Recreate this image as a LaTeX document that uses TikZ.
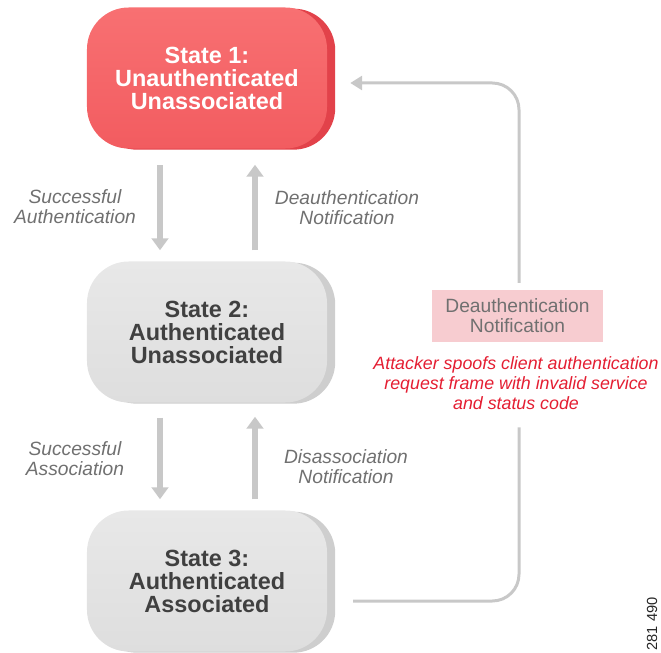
\documentclass[tikz,border=0pt]{standalone}
\usepackage{fontspec}
\setmainfont{Liberation Sans}
\usepackage{tikz}
\usetikzlibrary{arrows.meta,positioning,shadows,calc}
\usepackage{xcolor}

\definecolor{redface}{RGB}{242,92,96}
\definecolor{redtop}{RGB}{248,112,114}
\definecolor{redside}{RGB}{226,66,74}
\definecolor{grayface}{RGB}{222,222,222}
\definecolor{graytop}{RGB}{232,232,232}
\definecolor{grayside}{RGB}{206,206,206}
\definecolor{grayline}{RGB}{200,200,200}
\definecolor{labelgray}{RGB}{112,112,112}
\definecolor{statetext}{RGB}{64,64,64}
\definecolor{pinkbox}{RGB}{247,204,208}
\definecolor{attackred}{RGB}{228,30,50}

\begin{document}
\begin{tikzpicture}[x=0.03cm, y=-0.03cm,
    statebox/.style={rectangle, rounded corners=1.25cm, minimum width=7.2cm, minimum height=4.23cm,
        align=center, font=\fontsize{20}{19.6}\selectfont\bfseries},
    redstate/.style={statebox, top color=redtop, bottom color=redface, text=white,
        general shadow={fill=redside, shadow xshift=7pt, shadow yshift=-1pt}},
    graystate/.style={statebox, top color=graytop, bottom color=grayface, text=statetext,
        general shadow={fill=grayside, shadow xshift=7pt, shadow yshift=-1pt}},
    steparrow/.style={line width=0.18cm, grayline, -{Triangle[length=0.36cm, width=0.5cm]}},
    looparrow/.style={line width=0.09cm, grayline, rounded corners=0.8cm},
    translabel/.style={align=center, text=labelgray, font=\fontsize{16.4}{17}\selectfont\itshape}
]
    \useasboundingbox (0,0) rectangle (661,653);

    % the three states
    \node[redstate] (st1) at (207,78) {State 1:\\Unauthenticated\\Unassociated};
    \node[graystate] (st2) at (207,332) {State 2:\\Authenticated\\Unassociated};
    \node[graystate] (st3) at (207,581) {State 3:\\Authenticated\\Associated};

    % transitions between states
    \draw[steparrow, shorten <=0.5cm, shorten >=0.33cm] ([xshift=-1.41cm]st1.south) -- ([xshift=-1.41cm]st2.north);
    \draw[steparrow, shorten <=0.33cm, shorten >=0.48cm] ([xshift=1.44cm]st2.north) -- ([xshift=1.44cm]st1.south);
    \draw[steparrow, shorten <=0.45cm, shorten >=0.33cm] ([xshift=-1.41cm]st2.south) -- ([xshift=-1.41cm]st3.north);
    \draw[steparrow, shorten <=0.33cm, shorten >=0.42cm] ([xshift=1.44cm]st3.north) -- ([xshift=1.44cm]st2.south);

    \node[translabel] (lblauth) at (75,207) {Successful\\Authentication};
    \node[translabel] (lbldeauth) at (347,208) {Deauthentication\\Notification};
    \node[translabel] (lblassoc) at (75,459) {Successful\\Association};
    \node[translabel] (lbldisassoc) at (346,467) {Disassociation\\Notification};

    % spoofed deauthentication path
    \node[fill=pinkbox, minimum width=5.13cm, minimum height=1.56cm, align=center, text=labelgray,
        font=\fontsize{16.4}{17}\selectfont] (deauth) at (517.5,316) {Deauthentication\\Notification};
    \node[align=center, text=attackred, font=\fontsize{15.2}{16.8}\selectfont\itshape] (attack) at (516,383)
        {Attacker spoofs client authentication\\request frame with invalid service\\and status code};

    \coordinate (gaptop) at ($(deauth.north)+(1.5,-7)$);
    \coordinate (gapbot) at ($(attack.south)+(3,14)$);

    \draw[looparrow] ([xshift=0.78cm, yshift=-0.6cm]st3.east) -| (gapbot);
    \draw[looparrow, -{Triangle[length=0.36cm, width=0.42cm]}] (gaptop) |- ([xshift=0.69cm, yshift=-0.15cm]st1.east);

    \node[rotate=90, text=black!85, font=\fontsize{12.5}{12.5}\selectfont] (figno) at (652,624) {281 490};

\end{tikzpicture}
\end{document}
